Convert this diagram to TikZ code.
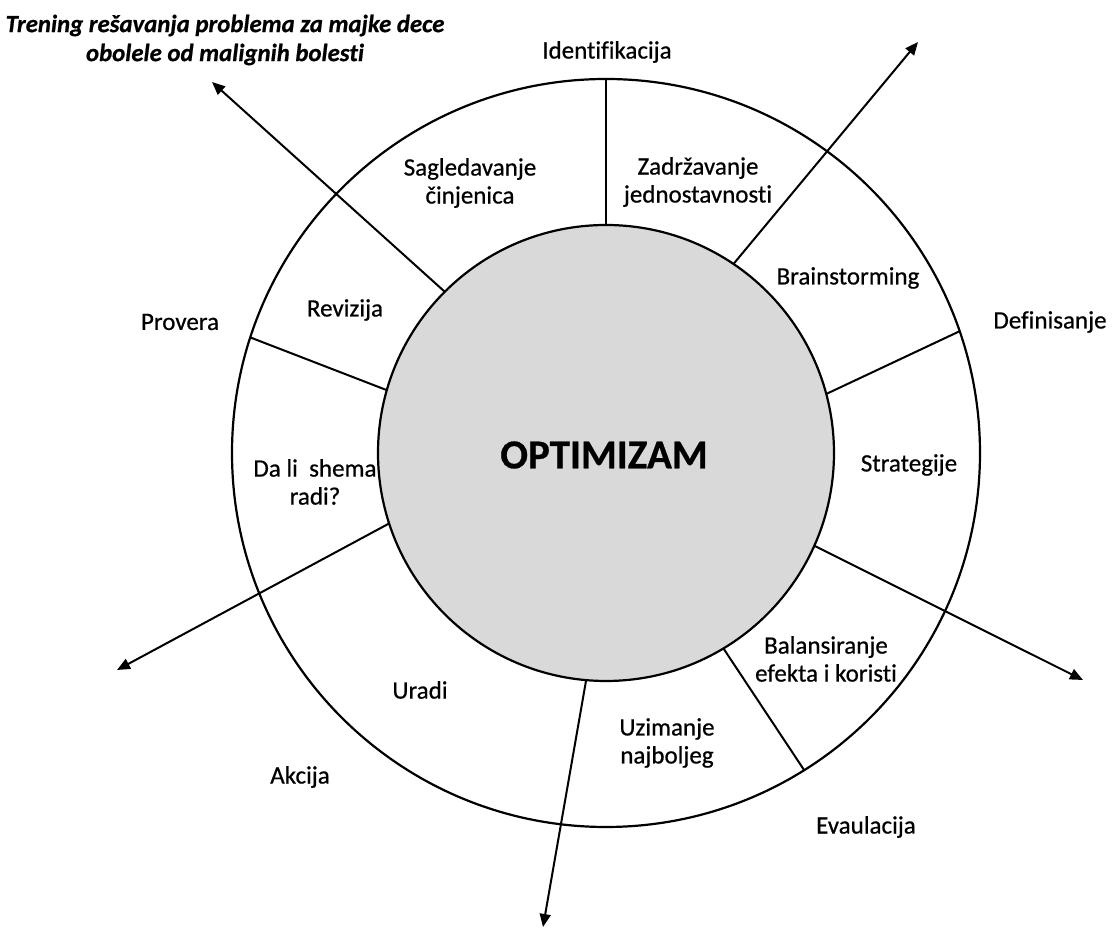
\documentclass[tikz,border=0pt]{standalone}
\usepackage{fontspec}
\setmainfont{Carlito}[Ligatures=NoCommon, FakeBold=0.6]
\usetikzlibrary{arrows.meta}
\definecolor{discgray}{HTML}{D9D9D9}
\tikzset{
  x=0.5pt, y=-0.5pt,
  ring/.style={circle, draw=black, line width=1.1pt, inner sep=0pt, outer sep=0pt},
  lbl/.style={align=center, inner sep=0pt, font=\fontsize{12.5}{14}\selectfont},
  spoke/.style={draw=black, line width=1pt},
  ray/.style={spoke, -{Triangle[length=6.5pt,width=5.5pt]}},
}
\begin{document}
\begin{tikzpicture}
\useasboundingbox (0,0) rectangle (1116,929);

% outer ring and central disc
\node[ring, minimum size=374pt] (o) at (606,453) {};
\node[ring, fill=discgray, minimum size=228pt] (c) at (606,453) {};
\node[font=\fontsize{20.5}{24}\selectfont\bfseries] (opt) at (604,455) {OPTIMIZAM};

% free ends of the arrows
\coordinate (t1) at (918,42);
\coordinate (t2) at (1083,680);
\coordinate (t3) at (543,927);
\coordinate (t4) at (117,670);
\coordinate (t5) at (212,82);

% dividing spokes
\draw[spoke] (c.90) -- (o.90);
\draw[spoke] (c.15.9) -- (o.19.1);
\draw[spoke] (c.-59.8) -- (o.-58.4);
\draw[spoke] (c.164.4) -- (o.162.3);

% arrows leaving the ring
\draw[ray] (c.56.2) -- (t1);
\draw[ray] (c.-24.4) -- (t2);
\draw[ray] (c.-95.3) -- (t3);
\draw[ray] (c.198.7) -- (t4);
\draw[ray] (c.135.4) -- (t5);

% title
\node[lbl, font=\fontsize{12.4}{14.5}\selectfont\bfseries\itshape] (title) at (225,40)
  {Trening rešavanja problema za majke dece\\obolele od malignih bolesti};

% phase names outside the ring
\node[lbl] (ident) at (607,52) {Identifikacija};
\node[lbl] (def) at (1050,322) {Definisanje};
\node[lbl] (prov) at (180,322) {Provera};
\node[lbl] (akc) at (300,777) {Akcija};
\node[lbl] (eval) at (866,827) {Evaulacija};

% steps inside the ring
\node[lbl] (sag) at (470,183) {Sagledavanje\\činjenica};
\node[lbl] (zad) at (698,182) {Zadržavanje\\jednostavnosti};
\node[lbl] (brain) at (848,278) {Brainstorming};
\node[lbl] (rev) at (345,310) {Revizija};
\node[lbl] (strat) at (909,465) {Strategije};
\node[lbl] (shema) at (315,482) {Da li\ \ shema\\radi?};
\node[lbl] (bal) at (826,659) {Balansiranje\\efekta i koristi};
\node[lbl] (uradi) at (420,690) {Uradi};
\node[lbl] (uzim) at (667,743) {Uzimanje\\najboljeg};
\end{tikzpicture}
\end{document}
